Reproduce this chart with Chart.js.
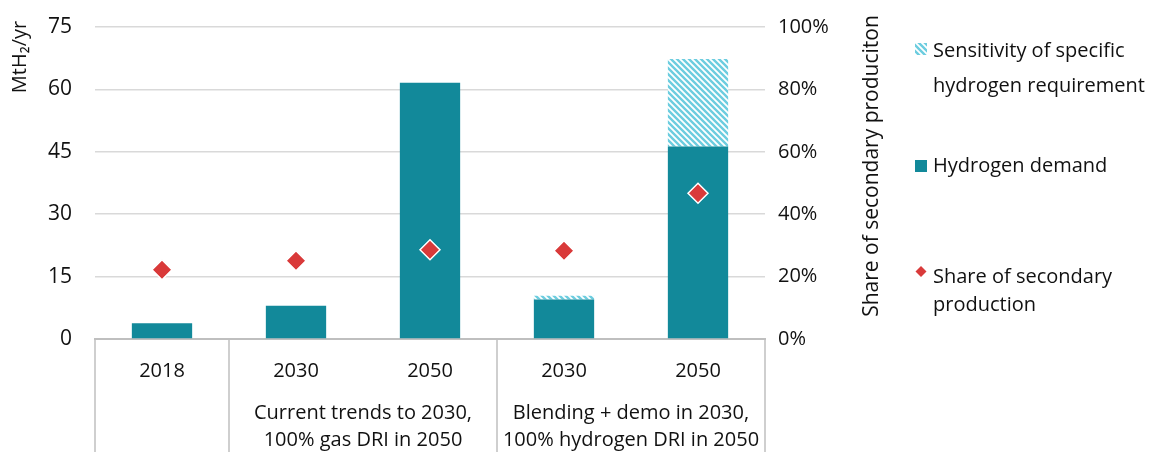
<!DOCTYPE html>
<html>
<head>
<meta charset="utf-8">
<script src="https://cdn.jsdelivr.net/npm/chart.js@4/dist/chart.umd.min.js"></script>
<style>
  html, body { margin: 0; padding: 0; background: #fff; }
  #wrap { width: 1155px; height: 452px; }
</style>
</head>
<body>
<div id="wrap"><canvas id="chart"></canvas></div>
<script>
const years = ["2018", "2030", "2050", "2030", "2050"];
const groups = [
  { from: 0, to: 0, lines: [] },
  { from: 1, to: 2, lines: ["Current trends to 2030,", "100% gas DRI in 2050"] },
  { from: 3, to: 4, lines: ["Blending + demo in 2030,", "100% hydrogen DRI in 2050"] },
];
const hydrogenDemand = [3.8, 8.0, 61.6, 9.5, 46.3];
const sensitivity = [null, null, null, 0.9, 21.0];
const secondaryShare = [0.222, 0.251, 0.286, 0.283, 0.467];

const FONT = "'Open Sans', 'DejaVu Sans', sans-serif";
const TEXT = "#111111";
const TEAL = "#12899a";
const CYAN = "#6ccddf";
const RED = "#d93a3a";
const GRID = "#d9d9d9";
const AXIS = "#bfbfbf";

Chart.defaults.font.family = FONT;
Chart.defaults.font.size = 20;
Chart.defaults.color = TEXT;

// diagonal stripes for the sensitivity band
const makeHatch = () => {
  const c = document.createElement("canvas");
  c.width = 6;
  c.height = 6;
  const g = c.getContext("2d");
  g.fillStyle = "#ffffff";
  g.fillRect(0, 0, 6, 6);
  g.strokeStyle = CYAN;
  g.lineWidth = 2.4;
  g.beginPath();
  g.moveTo(-2, -2); g.lineTo(8, 8);
  g.moveTo(-2, 4); g.lineTo(2, 8);
  g.moveTo(4, -2); g.lineTo(8, 2);
  g.stroke();
  return document.getElementById("chart").getContext("2d").createPattern(c, "repeat");
};
const hatch = makeHatch();

// fixed axis box sizes, no extra padding from the tick labels
const fixBox = (size) => (s) => {
  if (s.isHorizontal()) s.height = size;
  else s.width = size;
  s.paddingTop = 0;
  s.paddingBottom = 0;
};

const extras = {
  id: "extras",
  afterDraw(chart) {
    const { ctx, chartArea, scales } = chart;
    const x = scales.x;
    const bottom = chart.height;
    const edge = (i) => {
      if (i < 0) return chartArea.left;
      if (i >= years.length - 1) return chartArea.right;
      return (x.getPixelForValue(i) + x.getPixelForValue(i + 1)) / 2;
    };

    ctx.save();
    // category group separators
    ctx.strokeStyle = AXIS;
    ctx.lineWidth = 1.5;
    const cuts = [chartArea.left, edge(0), edge(2), chartArea.right];
    cuts.forEach((px) => {
      ctx.beginPath();
      ctx.moveTo(px, chartArea.bottom);
      ctx.lineTo(px, bottom);
      ctx.stroke();
    });

    // group labels
    ctx.fillStyle = TEXT;
    ctx.font = "20px " + FONT;
    ctx.textAlign = "center";
    ctx.textBaseline = "middle";
    groups.forEach((grp) => {
      const cx = (edge(grp.from - 1) + edge(grp.to)) / 2;
      grp.lines.forEach((line, k) => {
        ctx.fillText(line, cx, 413 + k * 27);
      });
    });

    // axis titles
    ctx.save();
    ctx.translate(20, 57);
    ctx.rotate(-Math.PI / 2);
    ctx.textAlign = "center";
    ctx.fillText("MtH\u2082/yr", 0, 0);
    ctx.restore();

    ctx.save();
    ctx.translate(872, 166);
    ctx.rotate(-Math.PI / 2);
    ctx.textAlign = "center";
    ctx.font = "21px " + FONT;
    ctx.fillText("Share of secondary produciton", 0, 0);
    ctx.restore();

    // legend
    const lx = 933;
    ctx.textAlign = "left";
    ctx.textBaseline = "alphabetic";
    ctx.fillStyle = hatch;
    ctx.fillRect(915, 43, 12, 12);
    ctx.fillStyle = TEXT;
    ctx.fillText(chart.data.datasets[1].label[0], lx, 57);
    ctx.fillText(chart.data.datasets[1].label[1], lx, 92);

    ctx.fillStyle = TEAL;
    ctx.fillRect(915, 160, 12, 12);
    ctx.fillStyle = TEXT;
    ctx.fillText(chart.data.datasets[0].label, lx, 172);

    ctx.fillStyle = RED;
    ctx.beginPath();
    ctx.moveTo(921, 266);
    ctx.lineTo(926.5, 271.5);
    ctx.lineTo(921, 277);
    ctx.lineTo(915.5, 271.5);
    ctx.closePath();
    ctx.fill();
    ctx.fillStyle = TEXT;
    ctx.fillText(chart.data.datasets[2].label[0], lx, 283);
    ctx.fillText(chart.data.datasets[2].label[1], lx, 311);
    ctx.restore();
  },
};

new Chart(document.getElementById("chart"), {
  type: "bar",
  data: {
    labels: years,
    datasets: [
      {
        label: "Hydrogen demand",
        data: hydrogenDemand,
        backgroundColor: TEAL,
        order: 1,
        yAxisID: "y",
      },
      {
        label: ["Sensitivity of specific", "hydrogen requirement"],
        data: sensitivity,
        backgroundColor: hatch,
        order: 1,
        yAxisID: "y",
      },
      {
        type: "line",
        label: ["Share of secondary", "production"],
        data: secondaryShare,
        showLine: false,
        pointStyle: "rectRot",
        pointRadius: 10,
        pointBackgroundColor: RED,
        pointBorderColor: "#ffffff",
        pointBorderWidth: 1.5,
        order: 0,
        yAxisID: "y1",
      },
    ],
  },
  options: {
    responsive: true,
    maintainAspectRatio: false,
    animation: false,
    events: [],
    categoryPercentage: 1,
    barPercentage: 0.45,
    layout: { padding: { top: 27, bottom: 0, left: 0, right: 0 } },
    plugins: {
      legend: { display: false },
      tooltip: { enabled: false },
    },
    scales: {
      x: {
        stacked: true,
        grid: { display: false, drawTicks: false },
        border: { display: true, color: AXIS, width: 2 },
        ticks: { padding: 20, font: { size: 20 } },
        afterFit: fixBox(113),
      },
      y: {
        stacked: true,
        position: "left",
        min: 0,
        max: 75,
        ticks: { stepSize: 15, padding: 23, font: { size: 21 } },
        grid: {
          drawTicks: false,
          color: (c) => (c.tick.value === 0 ? "rgba(0,0,0,0)" : GRID),
          lineWidth: 1.5,
        },
        border: { display: false },
        afterFit: fixBox(95),
      },
      y1: {
        position: "right",
        min: 0,
        max: 1,
        ticks: {
          stepSize: 0.2,
          padding: 13,
          font: { size: 20 },
          callback: (v) => Math.round(v * 100) + "%",
        },
        grid: { display: false, drawTicks: false },
        border: { display: false },
        afterFit: fixBox(390),
      },
    },
  },
  plugins: [extras],
});
</script>
</body>
</html>
